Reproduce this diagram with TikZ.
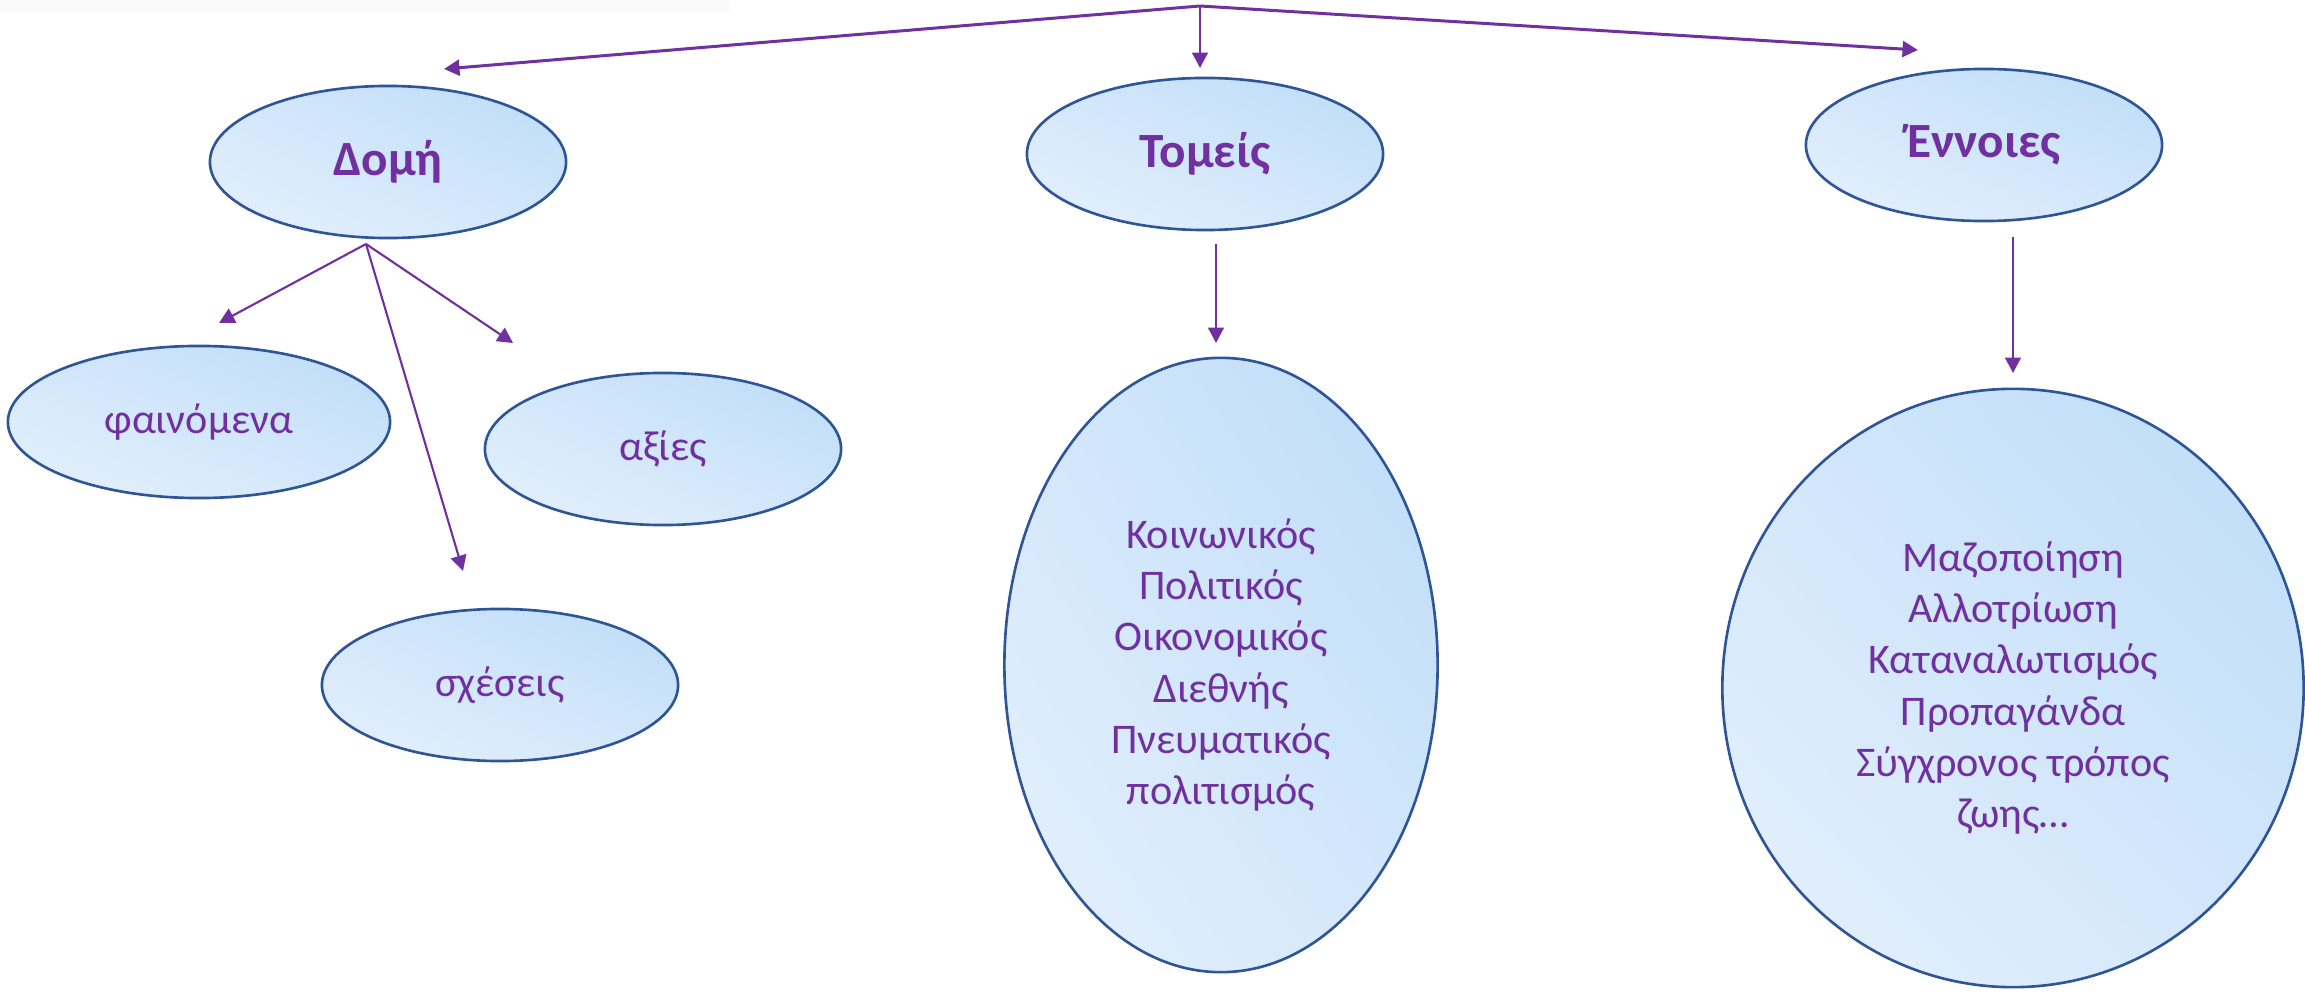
\documentclass[tikz,border=0pt]{standalone}
\usepackage{fontspec}
\setmainfont{Carlito}
\usetikzlibrary{shapes.geometric,arrows.meta,shadings}
\definecolor{linkpurple}{HTML}{7030A0}
\definecolor{rimblue}{HTML}{2F5597}
\definecolor{fillpale}{HTML}{E6F1FD}
\definecolor{fillmid}{HTML}{D3E7FB}
\definecolor{filldeep}{HTML}{BCDCF8}
\tikzstyle{bubble}=[ellipse,draw=rimblue,line width=0.75pt,inner sep=0pt,
  lower left=fillpale,upper right=filldeep,upper left=fillmid,lower right=fillmid,
  text=linkpurple,align=center,font=\fontsize{12}{14.6}\selectfont]
\tikzstyle{heading}=[bubble,font=\fontsize{14}{16}\selectfont\bfseries]
\tikzstyle{link}=[draw=linkpurple,line width=0.6pt,-{Triangle[length=4.4pt,width=4.5pt]}]
\tikzstyle{toplink}=[link,line width=0.85pt]

\begin{document}
\begin{tikzpicture}[x=0.01cm,y=-0.01cm]
\useasboundingbox (0,0) rectangle (2305,994);
\fill[black!2] (0,0) rectangle (730,12);
\node[heading,minimum width=3.56cm,minimum height=1.52cm] at (388, 162) (dom) {Δομή};
\node[heading,minimum width=3.56cm,minimum height=1.52cm] at (1205, 154) (tom) {Τομείς};
\node[heading,minimum width=3.56cm,minimum height=1.52cm] at (1984, 145) (enn) {Έννοιες};
\node[bubble,minimum width=3.82cm,minimum height=1.52cm] at (199, 422) (fain) {φαινόμενα};
\node[bubble,minimum width=3.56cm,minimum height=1.52cm] at (663, 449) (axi) {αξίες};
\node[bubble,minimum width=3.56cm,minimum height=1.52cm] at (500, 685) (sxe) {σχέσεις};
\node[bubble,minimum width=4.33cm,minimum height=6.14cm] at (1221, 665) (tomlist)
  {Κοινωνικός\\Πολιτικός\\Οικονομικός\\Διεθνής\\Πνευματικός\\πολιτισμός};
\node[bubble,minimum width=5.81cm,minimum height=5.98cm] at (2013, 688) (ennlist)
  {Μαζοποίηση\\Αλλοτρίωση\\Καταναλωτισμός\\Προπαγάνδα\\Σύγχρονος τρόπος\\ζωης…};
% arrow ends
\coordinate (root) at (1200, 6);
\coordinate (domin) at (444, 69);
\coordinate (tomin) at (1200, 68);
\coordinate (ennin) at (1918, 50);
\coordinate (domout) at (366, 244);
\coordinate (fainin) at (219, 323);
\coordinate (axiin) at (513, 343);
\coordinate (sxein) at (463, 571);
\coordinate (tomout) at (1216, 244);
\coordinate (tomlistin) at (1216, 343);
\coordinate (ennout) at (2013, 237);
\coordinate (ennlistin) at (2013, 373);
\draw[toplink] (root) -- (domin);
\draw[link] (root) -- (tomin);
\draw[toplink] (root) -- (ennin);
\draw[link] (domout) -- (fainin);
\draw[link] (domout) -- (axiin);
\draw[link] (domout) -- (sxein);
\draw[link] (tomout) -- (tomlistin);
\draw[link] (ennout) -- (ennlistin);
\end{tikzpicture}
\end{document}
